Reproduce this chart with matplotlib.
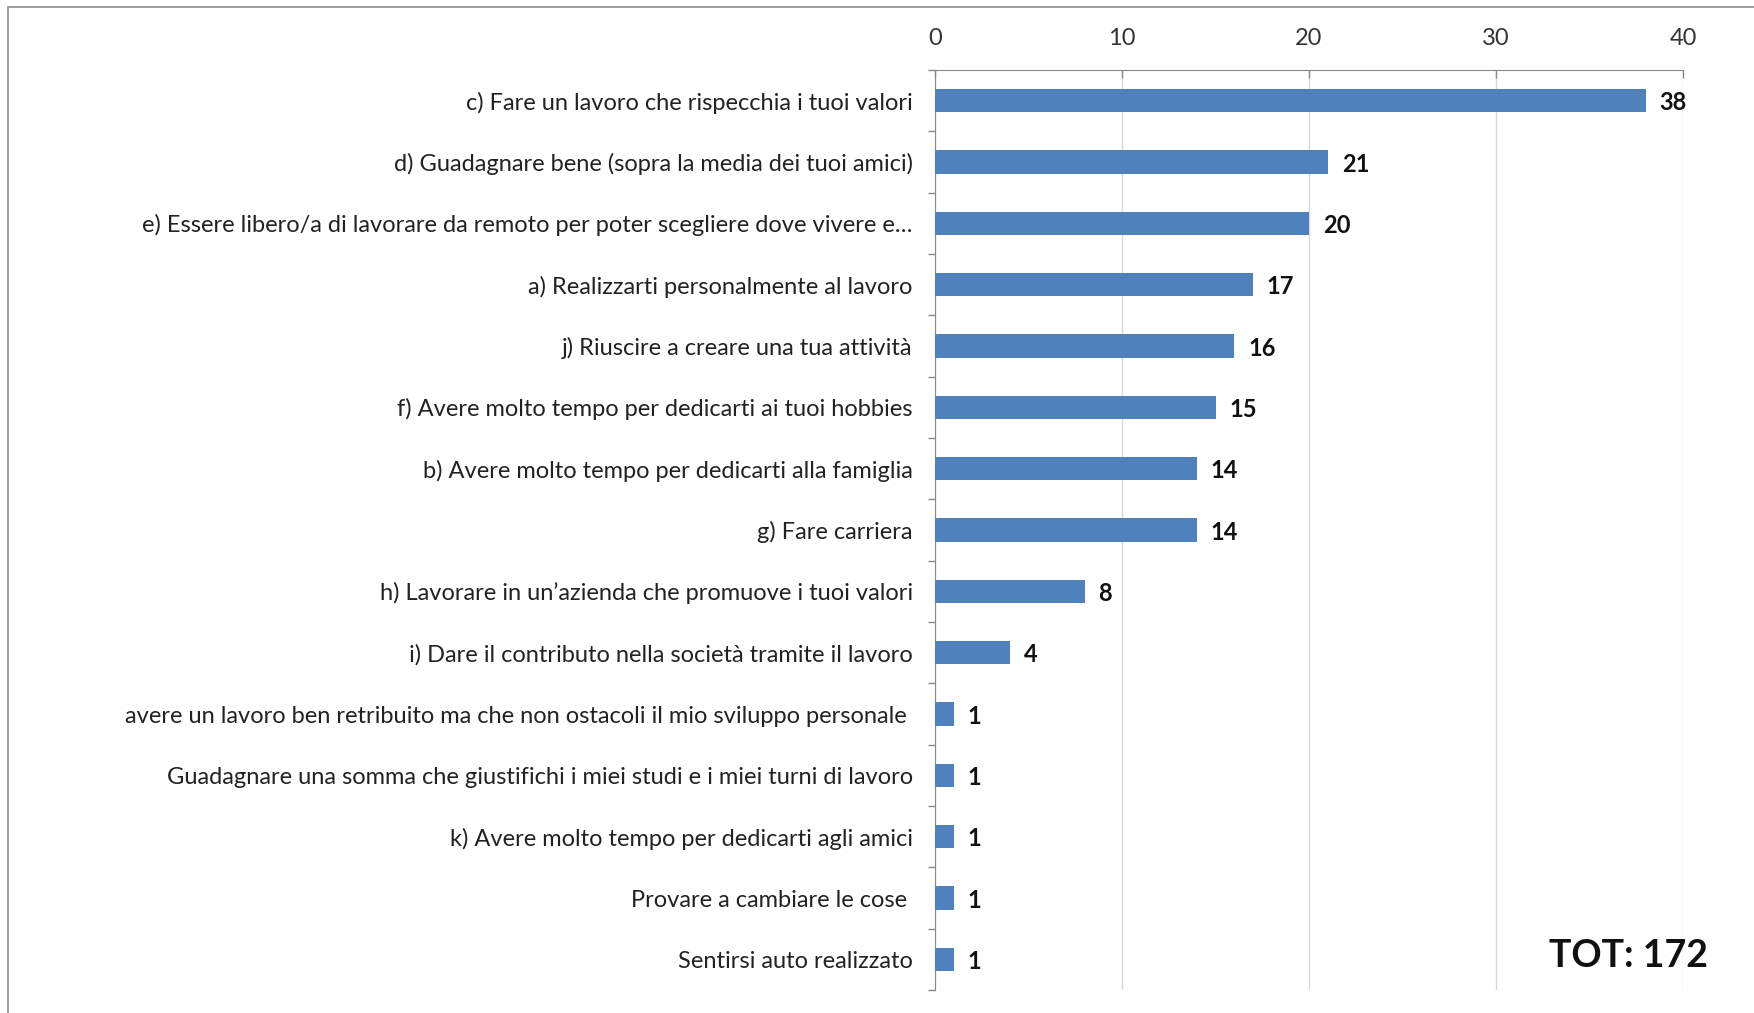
import matplotlib
matplotlib.use("Agg")
import matplotlib.pyplot as plt
from matplotlib.patches import Rectangle
import numpy as np

categories = [
    "c) Fare un lavoro che rispecchia i tuoi valori",
    "d) Guadagnare bene (sopra la media dei tuoi amici)",
    "e) Essere libero/a di lavorare da remoto per poter scegliere dove vivere e…",
    "a) Realizzarti personalmente al lavoro",
    "j) Riuscire a creare una tua attività",
    "f) Avere molto tempo per dedicarti ai tuoi hobbies",
    "b) Avere molto tempo per dedicarti alla famiglia",
    "g) Fare carriera",
    "h) Lavorare in un’azienda che promuove i tuoi valori",
    "i) Dare il contributo nella società tramite il lavoro",
    "avere un lavoro ben retribuito ma che non ostacoli il mio sviluppo personale ",
    "Guadagnare una somma che giustifichi i miei studi e i miei turni di lavoro",
    "k) Avere molto tempo per dedicarti agli amici",
    "Provare a cambiare le cose ",
    "Sentirsi auto realizzato",
]
values = [38, 21, 20, 17, 16, 15, 14, 14, 8, 4, 1, 1, 1, 1, 1]
xticks = [0, 10, 20, 30, 40]
total_label = "TOT: 172"

plt.rcParams['font.family'] = ['Lato', 'DejaVu Sans']

W, H = 1754, 1013
fig = plt.figure(figsize=(W / 100, H / 100), dpi=100)
fig.patch.set_facecolor("white")

# outer chart frame
fig.add_artist(Rectangle((8 / W, -0.01), 1.02, 1 - 7 / H + 0.01, transform=fig.transFigure,
                         fill=False, edgecolor="#8c8c8c", linewidth=1.2))

ax = fig.add_axes([935 / W, 23 / H, (1683 - 935) / W, (990 - 70) / H])
n = len(categories)
y = np.arange(n)
ax.barh(y, values, height=0.38, color="#4F81BD", zorder=3)
ax.set_ylim(n - 0.5, -0.5)
ax.set_xlim(0, 40)

ax.xaxis.tick_top()
ax.set_xticks(xticks)
ax.set_xticklabels([str(t) for t in xticks], fontsize=17, color="#333333")
ax.tick_params(axis="x", direction="in", length=6, width=1, color="#888888", pad=15)
ax.grid(axis="x", color="#d9d9d9", linewidth=1, zorder=0)

ax.set_yticks(y)
ax.set_yticklabels(categories, fontsize=17, color="#222222")
ax.set_yticks(np.arange(n + 1) - 0.5, minor=True)
ax.tick_params(axis="y", which="major", length=0, pad=16)
ax.tick_params(axis="y", which="minor", length=5, width=1, color="#888888", direction="out")

for s in ["right", "bottom"]:
    ax.spines[s].set_visible(False)
ax.spines["top"].set_color("#888888")
ax.spines["left"].set_color("#888888")

for yi, v in zip(y, values):
    ax.annotate(str(v), (v, yi), xytext=(14, -2), textcoords="offset pixels",
                ha="left", va="center", fontsize=17, fontweight="bold", color="#111111")

fig.text(1708 / W, 1 - 956 / H, total_label, ha="right", va="center",
         fontsize=27, fontweight="bold", color="#111111")

fig.savefig("out.png", dpi=100, facecolor="white")
